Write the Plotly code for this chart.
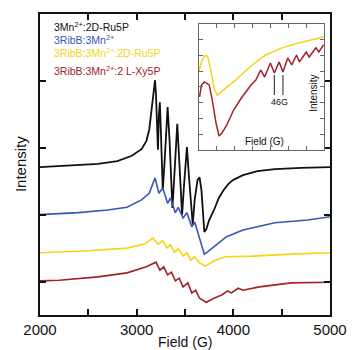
import plotly.graph_objects as go

# ---------------- main panel data (Field in G, Intensity in arbitrary offset units) ----------------
black_field = [2000, 2300, 2600, 2800, 2950, 3050, 3100, 3130, 3150, 3170, 3190, 3200, 3210, 3220,
               3230, 3240, 3250, 3270, 3290, 3320, 3340, 3370, 3390, 3420, 3440, 3470, 3490, 3520,
               3540, 3580, 3600, 3630, 3650, 3670, 3700, 3720, 3750, 3800, 3850, 3900, 3950, 4000,
               4100, 4250, 4430, 4700, 5000]
black_int = [2.21, 2.23, 2.26, 2.30, 2.38, 2.48, 2.60, 2.77, 2.99, 3.29, 3.51, 3.29, 2.62, 2.47,
             2.99, 3.18, 2.77, 1.87, 2.32, 3.11, 2.62, 1.60, 2.09, 2.86, 2.32, 1.50, 1.94, 2.51,
             2.09, 1.35, 1.72, 2.02, 2.06, 1.87, 1.24, 1.28, 1.42, 1.57, 1.75, 1.87, 1.96, 2.02,
             2.09, 2.15, 2.18, 2.20, 2.21]

blue_field = [2000, 2400, 2700, 2900, 3050, 3130, 3190, 3230, 3270, 3320, 3350, 3400, 3430, 3480,
              3520, 3570, 3600, 3650, 3700, 3730, 3800, 3870, 3930, 4100, 4430, 4770, 5000]
blue_int = [1.50, 1.53, 1.57, 1.61, 1.72, 1.82, 2.05, 1.82, 1.90, 1.67, 1.75, 1.53, 1.61, 1.45,
            1.53, 1.32, 1.39, 1.15, 0.91, 0.94, 1.02, 1.11, 1.17, 1.27, 1.38, 1.42, 1.47]

yellow_field = [2000, 2500, 2900, 3080, 3170, 3220, 3270, 3310, 3350, 3390, 3430, 3480, 3520, 3560,
                3600, 3650, 3710, 3760, 3800, 3920, 4200, 4600, 5000]
yellow_int = [0.93, 0.96, 1.00, 1.06, 1.15, 1.06, 1.11, 1.00, 1.05, 0.94, 0.99, 0.88, 0.93, 0.82,
              0.87, 0.78, 0.73, 0.77, 0.81, 0.87, 0.88, 0.91, 0.93]

red_field = [2000, 2200, 2600, 2900, 3100, 3200, 3240, 3280, 3320, 3360, 3400, 3440, 3480, 3530,
             3570, 3610, 3650, 3720, 3800, 3880, 3940, 3980, 4050, 4100, 4270, 4600, 5000]
red_int = [0.51, 0.52, 0.57, 0.63, 0.72, 0.79, 0.67, 0.72, 0.60, 0.64, 0.51, 0.55, 0.42, 0.48,
           0.33, 0.37, 0.25, 0.19, 0.25, 0.30, 0.36, 0.33, 0.40, 0.37, 0.42, 0.48, 0.49]

# ---------------- inset data ----------------
inset_yellow_field = [3100, 3116, 3132, 3149, 3165, 3186, 3203, 3219, 3251, 3295, 3386, 3473, 3565,
                      3657, 3797]
inset_yellow_int = [4.95, 5.59, 5.97, 5.97, 5.21, 3.94, 3.49, 3.62, 3.94, 4.32, 5.27, 6.03, 6.48,
                    6.79, 7.17]

inset_red_field = [3105, 3116, 3132, 3159, 3176, 3197, 3214, 3230, 3257, 3295, 3338, 3392, 3419,
                   3446, 3468, 3500, 3522, 3549, 3570, 3597, 3619, 3646, 3662, 3700, 3716, 3754,
                   3770, 3797]
inset_red_int = [3.37, 4.13, 4.32, 4.13, 3.17, 1.71, 0.89, 1.08, 1.59, 2.54, 3.30, 4.13, 4.44,
                 5.08, 4.63, 5.52, 4.89, 5.59, 4.95, 5.84, 5.40, 6.03, 5.59, 6.22, 5.90, 6.48,
                 6.22, 6.67]

marker_fields = [3522, 3570]
marker_span = [3.49, 4.76]

y_ticks = [0.5, 1.5, 2.5, 3.5]

legend_labels = ["3Mn<sup>2+</sup>:2D-Ru5P", "3RibB:3Mn<sup>2+</sup>",
                 "3RibB:3Mn<sup>2+</sup>:2D-Ru5P", "3RibB:3Mn<sup>2+</sup>:2 L-Xy5P"]

BLACK = "#111111"
BLUE = "#3a55b4"
YELLOW = "#f3d417"
RED = "#a3202c"
colors = [BLACK, BLUE, YELLOW, RED]

FONT = "Liberation Sans, Arial, sans-serif"

fig = go.Figure()
fig.add_trace(go.Scatter(x=black_field, y=black_int, mode="lines",
                         line=dict(color=BLACK, width=1.8)))
fig.add_trace(go.Scatter(x=blue_field, y=blue_int, mode="lines",
                         line=dict(color=BLUE, width=1.6)))
fig.add_trace(go.Scatter(x=yellow_field, y=yellow_int, mode="lines",
                         line=dict(color=YELLOW, width=1.6)))
fig.add_trace(go.Scatter(x=red_field, y=red_int, mode="lines",
                         line=dict(color=RED, width=1.6)))

fig.add_trace(go.Scatter(x=inset_yellow_field, y=inset_yellow_int, mode="lines",
                         line=dict(color=YELLOW, width=1.5), xaxis="x2", yaxis="y2"))
fig.add_trace(go.Scatter(x=inset_red_field, y=inset_red_int, mode="lines",
                         line=dict(color=RED, width=1.5), xaxis="x2", yaxis="y2"))
for mf in marker_fields:
    fig.add_trace(go.Scatter(x=[mf, mf], y=marker_span, mode="lines",
                             line=dict(color="#222222", width=1), xaxis="x2", yaxis="y2"))

fig.update_layout(
    width=359, height=350,
    margin=dict(l=40, r=19, t=14, b=35),
    paper_bgcolor="white", plot_bgcolor="white",
    showlegend=False,
    font=dict(family=FONT, color="#111111"),
    xaxis=dict(range=[2000, 5000], tick0=2000, dtick=1000,
               ticks="inside", ticklen=6, tickwidth=1.5, tickcolor="#111",
               minor=dict(dtick=500, ticks="inside", ticklen=6, tickwidth=1.5,
                          tickcolor="#111", showgrid=False),
               showline=True, linecolor="#111", linewidth=1.5, mirror="ticks",
               showgrid=False, zeroline=False, tickfont=dict(size=15)),
    yaxis=dict(range=[0, 4.5], tickvals=y_ticks, showticklabels=False,
               ticks="inside", ticklen=6, tickwidth=1.5, tickcolor="#111",
               showline=True, linecolor="#111", linewidth=1.5, mirror="ticks",
               showgrid=False, zeroline=False),
    xaxis2=dict(domain=[0.547, 0.98], anchor="y2", range=[3100, 3800], dtick=100,
                showticklabels=False, ticks="inside", ticklen=4, tickcolor="#666",
                showline=True, linecolor="#666", linewidth=1, mirror="ticks",
                showgrid=False, zeroline=False),
    yaxis2=dict(domain=[0.548, 0.967], anchor="x2", range=[0, 8], dtick=1,
                showticklabels=False, ticks="inside", ticklen=4, tickcolor="#666",
                showline=True, linecolor="#666", linewidth=1, mirror="ticks",
                showgrid=False, zeroline=False),
)

ann = []
legend_y = [4.31, 4.12, 3.92, 3.65]
for lab, col, ly in zip(legend_labels, colors, legend_y):
    ann.append(dict(x=2120, y=ly, xref="x", yref="y", text=lab, showarrow=False,
                    xanchor="left", yanchor="middle", font=dict(size=10.5, color=col)))
ann.append(dict(x=0.5, y=-0.09, xref="paper", yref="paper", text="Field (G)",
                showarrow=False, xanchor="center", yanchor="middle", font=dict(size=14)))
ann.append(dict(x=-0.067, y=0.5, xref="paper", yref="paper", text="Intensity",
                showarrow=False, textangle=-90, xanchor="center", yanchor="middle",
                font=dict(size=15)))
ann.append(dict(x=3549, y=3.05, xref="x2", yref="y2", text="46G", showarrow=False,
                xanchor="center", yanchor="middle", font=dict(size=9)))
ann.append(dict(x=3468, y=0.55, xref="x2", yref="y2", text="Field (G)", showarrow=False,
                xanchor="center", yanchor="middle", font=dict(size=10)))
ann.append(dict(x=3740, y=3.6, xref="x2", yref="y2", text="Intensity", showarrow=False,
                textangle=-90, xanchor="center", yanchor="middle", font=dict(size=10)))
fig.update_layout(annotations=ann)

fig.write_html("out.html")
